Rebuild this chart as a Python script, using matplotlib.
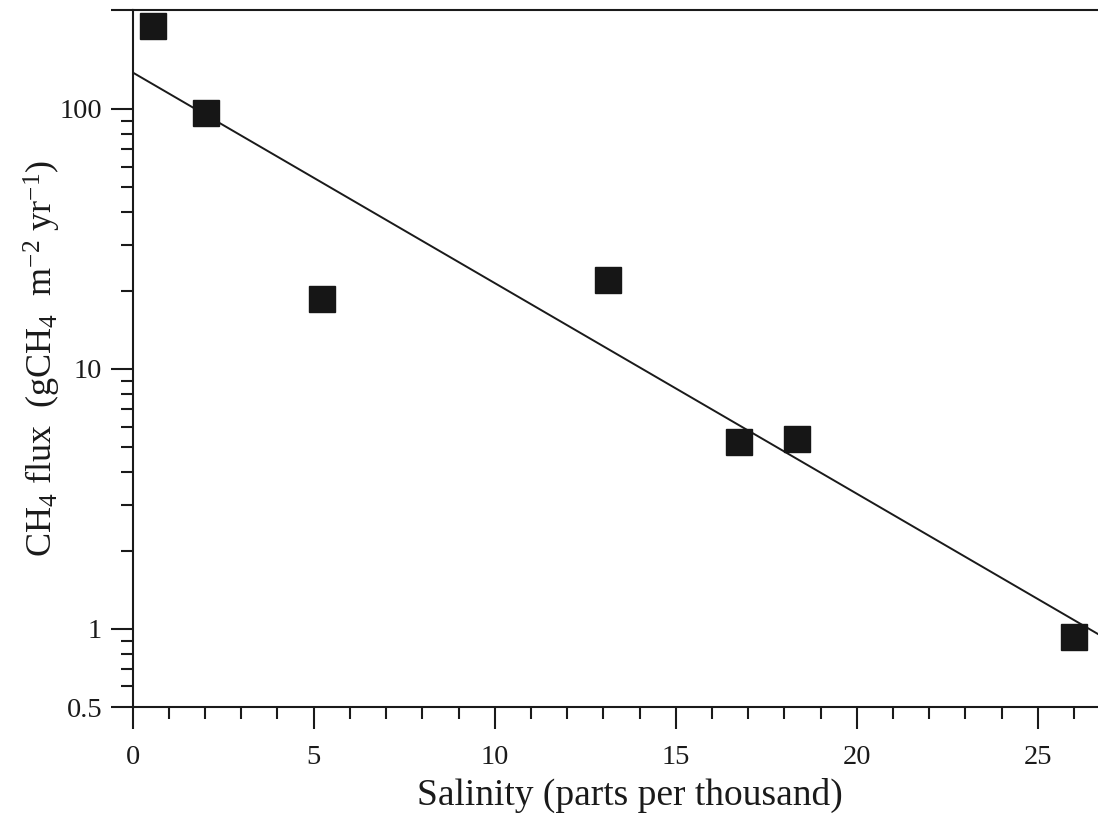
import numpy as np
import matplotlib
matplotlib.use("Agg")
import matplotlib.pyplot as plt
from matplotlib.ticker import FixedLocator, MultipleLocator

plt.rcParams['font.family'] = ['Liberation Serif', 'DejaVu Serif']
plt.rcParams['mathtext.fontset'] = 'custom'
plt.rcParams['mathtext.rm'] = 'Liberation Serif'
plt.rcParams['mathtext.it'] = 'Liberation Serif:italic'
plt.rcParams['mathtext.bf'] = 'Liberation Serif:bold'

# Data
salinity = [0.56, 2.03, 5.23, 13.13, 16.75, 18.35, 26.0]
ch4_flux = [208, 96, 18.6, 22.0, 5.25, 5.39, 0.93]

x_limits = (0, 26.66)
y_limits = (0.5, 240)
x_major = [0, 5, 10, 15, 20, 25]
y_major = [0.5, 1, 10, 100, 240]
y_major_labels = ['0.5', '1', '10', '100', '']
y_minor = [0.6, 0.7, 0.8, 0.9, 2, 3, 4, 5, 6, 7, 8, 9,
           20, 30, 40, 50, 60, 70, 80, 90]

# Log-linear regression
coef = np.polyfit(salinity, np.log10(ch4_flux), 1)
xfit = np.linspace(x_limits[0], x_limits[1], 200)
yfit = 10 ** np.polyval(coef, xfit)

fig = plt.figure(figsize=(10.98, 8.17), dpi=100)
ax = fig.add_axes([0.1208, 0.1346, 0.8792, 0.8531])

ax.plot(xfit, yfit, color='#1a1a1a', lw=1.4, clip_on=True)
ax.plot(salinity, ch4_flux, linestyle='none', marker='s', markersize=19,
        color='#161616', clip_on=False)

ax.set_yscale('log')
ax.set_xlim(*x_limits)
ax.set_ylim(*y_limits)

ax.yaxis.set_major_locator(FixedLocator(y_major))
ax.set_yticklabels(y_major_labels)
ax.yaxis.set_minor_locator(FixedLocator(y_minor))
ax.yaxis.set_minor_formatter(plt.NullFormatter())
ax.xaxis.set_major_locator(FixedLocator(x_major))
ax.xaxis.set_minor_locator(MultipleLocator(1))

for s in ['left', 'bottom', 'top']:
    ax.spines[s].set_linewidth(1.5)
    ax.spines[s].set_color('#1a1a1a')
ax.spines['right'].set_visible(False)

ax.tick_params(axis='both', which='major', direction='out', length=16,
               width=1.5, colors='#1a1a1a', labelsize=20.5, labelcolor='#1a1a1a')
ax.tick_params(axis='x', which='major', pad=11)
ax.tick_params(axis='y', which='major', pad=6)
ax.tick_params(axis='both', which='minor', direction='out', length=8.5,
               width=1.5, colors='#1a1a1a')

ax.set_xlabel('Salinity (parts per thousand)', fontsize=27, color='#1a1a1a')
ax.set_ylabel(r'CH$_4$ flux  (gCH$_4$  m$^{-2}$ yr$^{-1}$)', fontsize=26,
              color='#1a1a1a')
ax.xaxis.set_label_coords(0.515, -0.101)
ax.yaxis.set_label_coords(-0.072, 0.5)

fig.savefig('out.png', dpi=100)
